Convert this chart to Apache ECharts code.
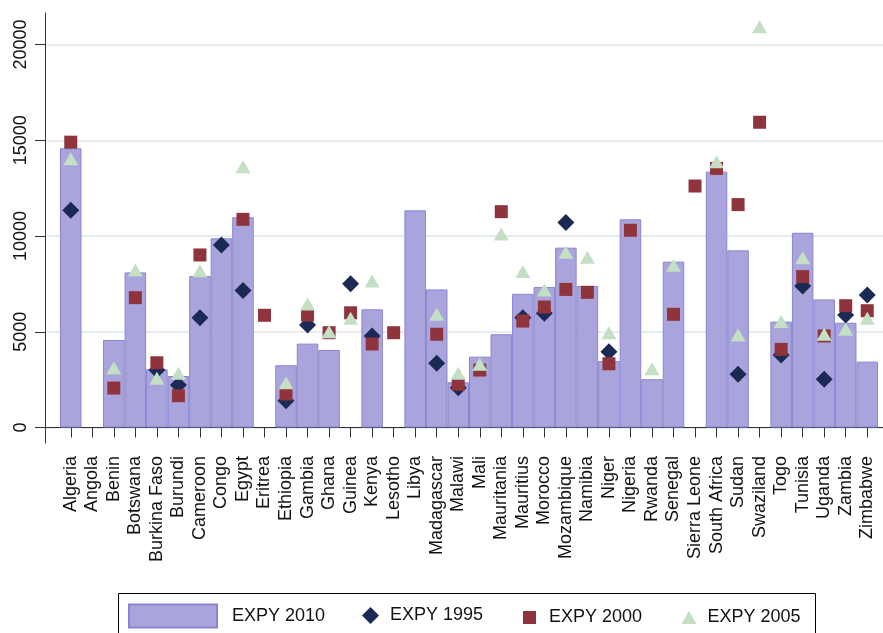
<!DOCTYPE html>
<html>
<head>
<meta charset="utf-8">
<script src="https://cdn.jsdelivr.net/npm/echarts@6/dist/echarts.min.js"></script>
<style>html,body{margin:0;padding:0;background:#fff}#c{width:883px;height:633px}</style>
</head>
<body>
<div id="c"></div>
<script>
const countries = ['Algeria','Angola','Benin','Botswana','Burkina Faso','Burundi','Cameroon','Congo','Egypt','Eritrea','Ethiopia','Gambia','Ghana','Guinea','Kenya','Lesotho','Libya','Madagascar','Malawi','Mali','Mauritania','Mauritius','Morocco','Mozambique','Namibia','Niger','Nigeria','Rwanda','Senegal','Sierra Leone','South Africa','Sudan','Swaziland','Togo','Tunisia','Uganda','Zambia','Zimbabwe'];
const expy2010 = [14580,null,4570,8100,3040,2690,7910,9880,10980,null,3250,4380,4050,null,6170,null,11340,7210,2360,3700,4870,6980,7340,9390,7390,3470,10870,2520,8660,null,13360,9250,null,5530,10170,6690,5470,3440];
const expy1995 = [11340,null,null,null,3000,2220,5730,9530,7160,null,1400,5350,null,7510,4780,null,null,3350,2080,null,null,5730,5960,10710,null,3960,null,null,null,null,null,2780,null,3790,7390,2520,5870,6920];
const expy2000 = [14900,null,2060,6780,3380,1660,9010,null,10870,5860,1750,5870,4950,5990,4360,4950,null,4870,2260,3000,11270,5560,6290,7210,7060,3330,10300,null,5910,12610,13530,11640,15940,4080,7880,4780,6360,6100];
const expy2005 = [14040,null,3120,8220,2570,2830,8190,null,13620,null,2340,6450,5000,5700,7650,null,null,5910,2830,3300,10100,8140,7180,9150,8890,4950,null,3070,8470,null,13880,4830,20930,5530,8870,4870,5130,5700];
const yTicks = [0,5000,10000,15000,20000];

const FONT = 'Liberation Sans, Arial, Helvetica, sans-serif';
const YMIN = -809, YMAX = 21645;
const chart = echarts.init(document.getElementById('c'), null, {renderer:'canvas'});
const legendText = (pad) => ({fontSize:18, color:'#111', fontFamily:FONT, padding:[0,0,0,pad]});
chart.setOption({
  animation:false,
  backgroundColor:'#fff',
  grid:[
    {left:60, right:5, top:13, bottom:190},
    {left:45, right:0, top:13, bottom:190}
  ],
  xAxis:[
    {type:'category', gridIndex:0, data:countries, boundaryGap:true,
     axisLine:{show:true, lineStyle:{color:'#333', width:1}},
     axisTick:{show:true, alignWithLabel:true, length:10, lineStyle:{color:'#333'}},
     axisLabel:{rotate:90, margin:13, interval:0, fontSize:18, color:'#111', fontFamily:FONT},
     splitLine:{show:false}},
    {type:'value', gridIndex:1, min:0, max:1,
     axisLine:{show:true, lineStyle:{color:'#333', width:1}},
     axisTick:{show:false}, axisLabel:{show:false}, splitLine:{show:false}}
  ],
  yAxis:[
    {type:'value', gridIndex:0, min:YMIN, max:YMAX, show:false, splitLine:{show:false}},
    {type:'value', gridIndex:1, min:YMIN, max:YMAX,
     axisLine:{show:true, lineStyle:{color:'#333', width:1}},
     axisTick:{show:true, length:10, customValues:yTicks, lineStyle:{color:'#333'}},
     axisLabel:{rotate:90, margin:15, fontSize:18, color:'#111', fontFamily:FONT, customValues:yTicks,
                formatter:(v)=>String(v)},
     splitLine:{show:true, lineStyle:{color:'#e6edf1', width:2}}}
  ],
  legend:[
    {left:128, top:603.5, padding:0, itemWidth:88, itemHeight:23, selectedMode:false, icon:'rect',
     data:['EXPY 2010'], textStyle:legendText(10)},
    {left:362, top:606.5, padding:0, itemWidth:17, itemHeight:17, selectedMode:false,
     data:['EXPY 1995'], textStyle:legendText(6)},
    {left:523, top:608.5, padding:0, itemWidth:13, itemHeight:13, selectedMode:false,
     data:['EXPY 2000'], textStyle:legendText(8)},
    {left:681.5, top:608.5, padding:0, itemWidth:15, itemHeight:13, selectedMode:false,
     data:['EXPY 2005'], textStyle:legendText(6)}
  ],
  graphic:[
    {type:'rect', silent:true, shape:{x:118.5, y:593.5, width:697, height:60},
     style:{fill:'none', stroke:'#000', lineWidth:1}}
  ],
  series:[
    {name:'EXPY 2010', type:'bar', xAxisIndex:0, yAxisIndex:0, data:expy2010,
     barCategoryGap:'0%', z:2,
     itemStyle:{color:'#a9a5dc', borderColor:'#8a85d2', borderWidth:1}},
    {name:'EXPY 1995', type:'scatter', xAxisIndex:0, yAxisIndex:0, data:expy1995,
     symbol:'diamond', symbolSize:[17,17], z:3,
     itemStyle:{color:'#1b2a55', opacity:1}},
    {name:'EXPY 2000', type:'scatter', xAxisIndex:0, yAxisIndex:0, data:expy2000,
     symbol:'rect', symbolSize:[13,13], z:4,
     itemStyle:{color:'#8f343c', opacity:1}},
    {name:'EXPY 2005', type:'scatter', xAxisIndex:0, yAxisIndex:0, data:expy2005,
     symbol:'triangle', symbolSize:[15,13], z:5,
     itemStyle:{color:'#c3dfc4', opacity:1}}
  ]
});
</script>
</body>
</html>
